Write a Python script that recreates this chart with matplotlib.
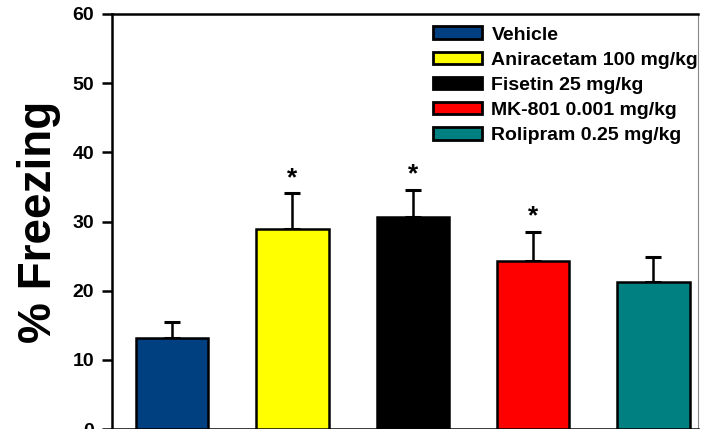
import matplotlib
matplotlib.use("Agg")
import matplotlib.pyplot as plt
from matplotlib.patches import Patch

groups = ["Vehicle", "Aniracetam 100 mg/kg", "Fisetin 25 mg/kg",
          "MK-801 0.001 mg/kg", "Rolipram 0.25 mg/kg"]
freezing = [13.2, 28.9, 30.6, 24.3, 21.2]
sem = [2.2, 5.2, 4.0, 4.2, 3.7]
significant = [False, True, True, True, False]
colors = ["#003F80", "#FFFF00", "#000000", "#FF0000", "#008080"]
yticks = [0, 10, 20, 30, 40, 50, 60]

plt.rcParams["font.family"] = ["Liberation Sans", "DejaVu Sans"]
plt.rcParams["font.weight"] = "bold"

fig = plt.figure(figsize=(7.03, 4.29), dpi=100)
ax = fig.add_axes([112 / 703, 0.0, 586 / 703, 415 / 429])

x = list(range(len(groups)))
ax.bar(x, freezing, width=0.6, color=colors, edgecolor="black", linewidth=1.8, zorder=3)
ax.errorbar(x, freezing, yerr=[[0] * len(sem), sem], fmt="none", ecolor="black",
            elinewidth=1.8, capsize=5.5, capthick=2.2, zorder=2)

for xi, m, s, sig in zip(x, freezing, sem, significant):
    if sig:
        ax.text(xi, m + s + 2.2, "*", ha="center", va="center", fontsize=19,
                fontweight="bold")

ax.set_xlim(-0.5, 4.37)
ax.set_ylim(0, 60)
ax.set_yticks(yticks)
ax.set_xticks([])
ax.tick_params(axis="y", direction="out", length=7, width=1.8, pad=6, labelsize=14)
for lbl in ax.get_yticklabels():
    lbl.set_fontweight("bold")

for side in ["left", "top", "bottom"]:
    ax.spines[side].set_linewidth(1.8)
ax.spines["right"].set_linewidth(0.8)
ax.spines["right"].set_color("#888888")

ax.set_ylabel("% Freezing", fontsize=33, fontweight="bold", labelpad=8)

handles = [Patch(facecolor=c, edgecolor="black", linewidth=2.0) for c in colors]
ax.legend(handles, groups, loc="upper left", bbox_to_anchor=(0.548, 0.97),
          frameon=False, handlelength=2.5, handleheight=0.62,
          labelspacing=0.41, handletextpad=0.5, borderpad=0, borderaxespad=0,
          prop={"weight": "bold", "size": 14})

fig.savefig("out.png", dpi=100)
